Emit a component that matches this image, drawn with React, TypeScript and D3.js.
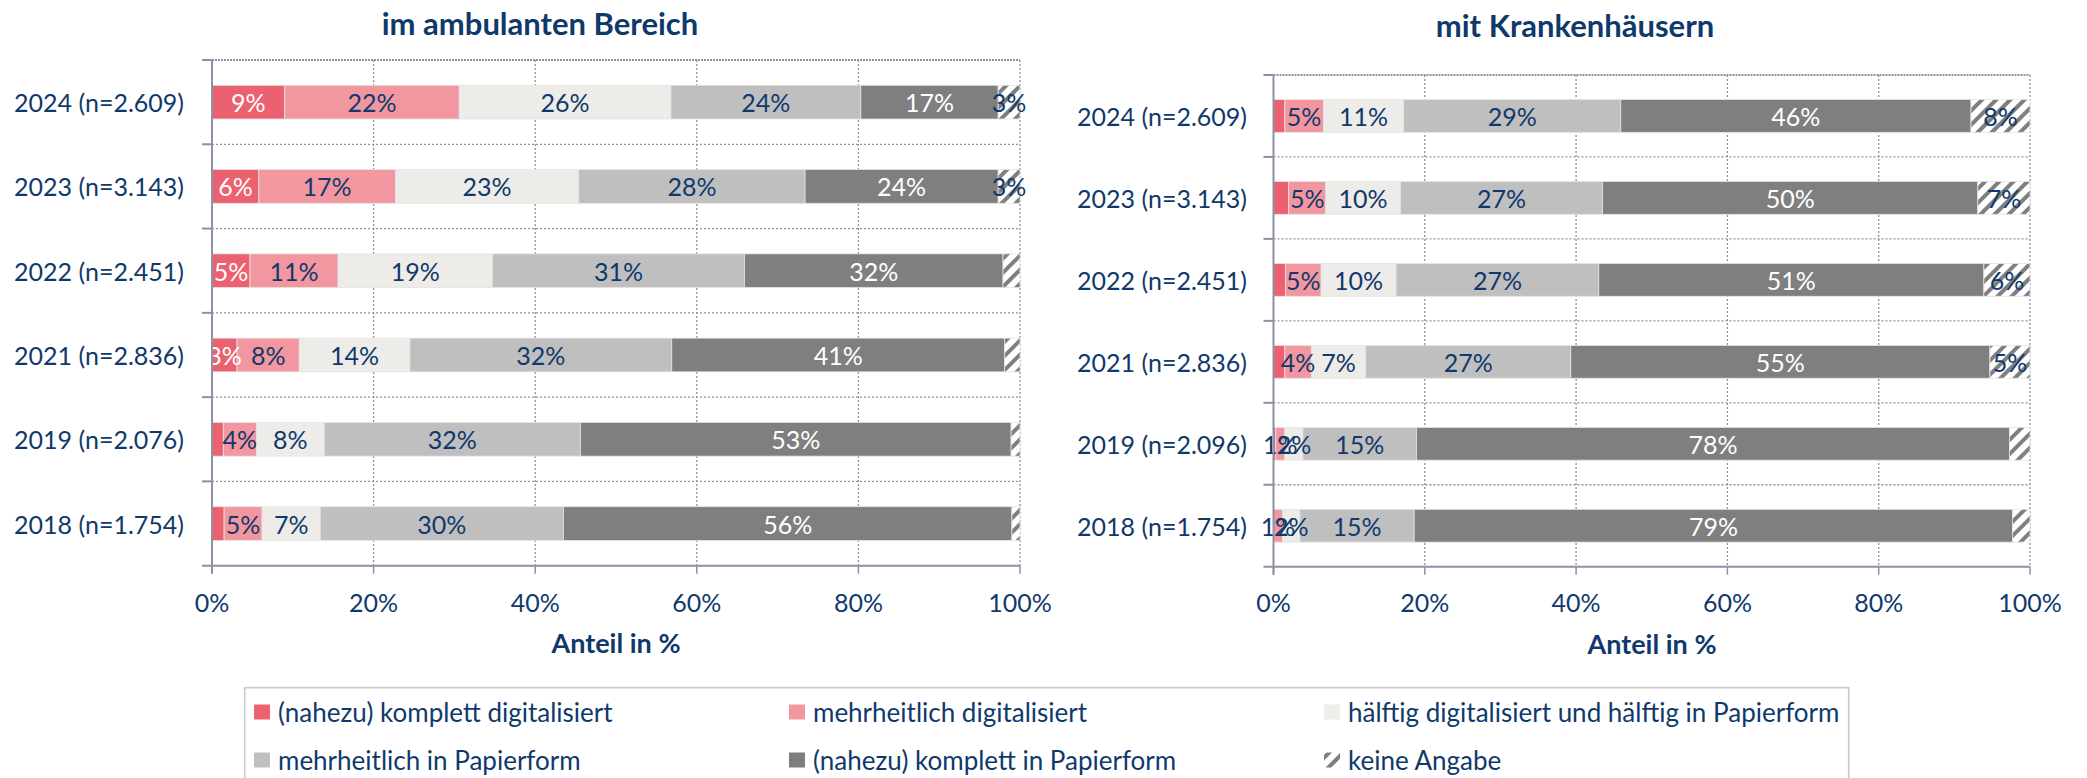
import React, { useEffect } from "react";
import * as d3 from "d3";

// ---------- data ----------
const seriesNames = [
  "(nahezu) komplett digitalisiert",
  "mehrheitlich digitalisiert",
  "hälftig digitalisiert und hälftig in Papierform",
  "mehrheitlich in Papierform",
  "(nahezu) komplett in Papierform",
  "keine Angabe",
];

const categoriesAmbulant = [
  "2024 (n=2.609)",
  "2023 (n=3.143)",
  "2022 (n=2.451)",
  "2021 (n=2.836)",
  "2019 (n=2.076)",
  "2018 (n=1.754)",
];
const categoriesKrankenhaus = [
  "2024 (n=2.609)",
  "2023 (n=3.143)",
  "2022 (n=2.451)",
  "2021 (n=2.836)",
  "2019 (n=2.096)",
  "2018 (n=1.754)",
];

// im ambulanten Bereich (per series, per year)
const ambKomplettDigital = [9.0, 5.8, 4.7, 3.1, 1.4, 1.5];
const ambMehrheitDigital = [21.6, 16.9, 10.9, 7.7, 4.1, 4.7];
const ambHaelftig = [26.2, 22.7, 19.1, 13.7, 8.4, 7.2];
const ambMehrheitPapier = [23.5, 28.0, 31.2, 32.4, 31.7, 30.1];
const ambKomplettPapier = [17.0, 23.9, 32.0, 41.2, 53.3, 55.5];
const ambKeineAngabe = [2.7, 2.7, 2.1, 1.9, 1.1, 1.0];

// mit Krankenhäusern
const khKomplettDigital = [1.5, 2.0, 1.6, 1.5, 0.3, 0.0];
const khMehrheitDigital = [5.1, 4.9, 4.7, 3.5, 1.2, 1.2];
const khHaelftig = [10.6, 9.9, 9.9, 7.2, 2.4, 2.3];
const khMehrheitPapier = [28.7, 26.7, 26.8, 27.1, 15.0, 15.1];
const khKomplettPapier = [46.3, 49.6, 50.9, 55.4, 78.4, 79.1];
const khKeineAngabe = [7.8, 6.9, 6.1, 5.3, 2.7, 2.3];

// which data labels are printed (per series, per year)
const ambLabelShown = [
  [true, true, true, true, false, false],
  [true, true, true, true, true, true],
  [true, true, true, true, true, true],
  [true, true, true, true, true, true],
  [true, true, true, true, true, true],
  [true, true, false, false, false, false],
];
const khLabelShown = [
  [false, false, false, false, false, false],
  [true, true, true, true, true, true],
  [true, true, true, true, true, true],
  [true, true, true, true, true, true],
  [true, true, true, true, true, true],
  [true, true, true, true, false, false],
];

const xTicks = [0, 20, 40, 60, 80, 100];

// ---------- style ----------
const NAVY = "#10396b";
const GRID = "#8c92a5";
const FONT = "Lato, 'Open Sans', sans-serif";
const colors = ["#eb6170", "#f2979f", "#edece8", "#bfbfbf", "#7f7f7f", "url(#hatch)"];
const labelColors = ["#ffffff", NAVY, NAVY, NAVY, "#ffffff", NAVY];

type Panel = {
  title: string;
  categories: string[];
  series: number[][];
  shown: boolean[][];
  x0: number; x1: number; y0: number; y1: number;
  labelX: number; titleX: number; titleY: number; axisTitleX: number; axisTitleY: number;
};

const panels: Panel[] = [
  {
    title: "im ambulanten Bereich",
    categories: categoriesAmbulant,
    series: [ambKomplettDigital, ambMehrheitDigital, ambHaelftig, ambMehrheitPapier, ambKomplettPapier, ambKeineAngabe],
    shown: ambLabelShown,
    x0: 212, x1: 1020, y0: 60, y1: 565.7,
    labelX: 184, titleX: 540, titleY: 23, axisTitleX: 616, axisTitleY: 642,
  },
  {
    title: "mit Krankenhäusern",
    categories: categoriesKrankenhaus,
    series: [khKomplettDigital, khMehrheitDigital, khHaelftig, khMehrheitPapier, khKomplettPapier, khKeineAngabe],
    shown: khLabelShown,
    x0: 1273.5, x1: 2030, y0: 75, y1: 566.7,
    labelX: 1247, titleX: 1575, titleY: 25, axisTitleX: 1652, axisTitleY: 643,
  },
];

function PanelChart({ p }: { p: Panel }) {
  const x = d3.scaleLinear().domain([0, 100]).range([p.x0, p.x1]);
  const y = d3
    .scaleBand<string>()
    .domain(p.categories)
    .range([p.y0, p.y1])
    .paddingInner(0.6)
    .paddingOuter(0.3);
  const step = y.step();
  const keys = seriesNames.map((_, i) => String(i));
  const rows = p.categories.map((c, ci) => {
    const r: any = { cat: c };
    p.series.forEach((s, si) => (r[String(si)] = s[ci]));
    return r;
  });
  const stacked = d3.stack<any>().keys(keys)(rows);
  const boundaries = d3.range(0, p.categories.length + 1).map((k) => p.y0 + k * step);

  return (
    <g>
      <text x={p.titleX} y={p.titleY} textAnchor="middle" dominantBaseline="central"
        fontFamily={FONT} fontWeight={700} fontSize={31} fill={NAVY}>{p.title}</text>

      {/* vertical gridlines */}
      {xTicks.slice(1).map((t) => (
        <line key={"g" + t} x1={x(t)} x2={x(t)} y1={p.y0} y2={p.y1}
          stroke={GRID} strokeWidth={1.3} strokeDasharray="2 2" />
      ))}
      {/* horizontal separators */}
      {boundaries.slice(0, -1).map((b, k) => (
        <g key={"h" + k}>
          <line x1={p.x0} x2={p.x1} y1={b} y2={b} stroke={GRID}
            strokeWidth={k === 0 ? 2.2 : 1.3} strokeDasharray={k === 0 ? "2 1" : "2 2"} />
          <line x1={p.x0 - 10} x2={p.x0} y1={b} y2={b} stroke={GRID} strokeWidth={2} />
        </g>
      ))}

      {/* bars */}
      {stacked.map((layer, si) => (
        <g key={"s" + si}>
          {layer.map((d, ci) => {
            const w = x(d[1]) - x(d[0]);
            if (w <= 0) return null;
            return (
              <rect key={ci} x={x(d[0])} y={y(p.categories[ci])!} width={w}
                height={y.bandwidth()} fill={colors[si]} stroke="#e4e4e4" strokeWidth={0.8} />
            );
          })}
        </g>
      ))}
      {/* labels */}
      {stacked.map((layer, si) => (
        <g key={"l" + si}>
          {layer.map((d, ci) => {
            if (!p.shown[si][ci]) return null;
            const v = p.series[si][ci];
            return (
              <text key={ci} x={(x(d[0]) + x(d[1])) / 2}
                y={y(p.categories[ci])! + y.bandwidth() / 2}
                textAnchor="middle" dominantBaseline="central"
                fontFamily={FONT} fontSize={25} fill={labelColors[si]}>
                {Math.round(v) + "%"}
              </text>
            );
          })}
        </g>
      ))}

      {/* axes */}
      <line x1={p.x0} x2={p.x0} y1={p.y0} y2={p.y1 + 8} stroke={GRID} strokeWidth={2} />
      <line x1={p.x0 - 10} x2={p.x1} y1={p.y1} y2={p.y1} stroke={GRID} strokeWidth={2} />
      {xTicks.map((t) => (
        <g key={"t" + t}>
          <line x1={x(t)} x2={x(t)} y1={p.y1} y2={p.y1 + 8} stroke={GRID} strokeWidth={1.5} />
          <text x={x(t)} y={602} textAnchor="middle" dominantBaseline="central"
            fontFamily={FONT} fontSize={25} fill={NAVY}>{t + "%"}</text>
        </g>
      ))}
      {p.categories.map((c) => (
        <text key={c} x={p.labelX} y={y(c)! + y.bandwidth() / 2} textAnchor="end"
          dominantBaseline="central" fontFamily={FONT} fontSize={25} fill={NAVY}>{c}</text>
      ))}
      <text x={p.axisTitleX} y={p.axisTitleY} textAnchor="middle" dominantBaseline="central"
        fontFamily={FONT} fontWeight={700} fontSize={27} fill={NAVY}>Anteil in %</text>
    </g>
  );
}

const legendCols = [254, 789, 1324];
const legendRows = [712, 760];

export default function App() {
  useEffect(() => {
    document.body.style.margin = "0";
  }, []);
  return (
    <div style={{ position: "absolute", left: 0, top: 0 }}>
      <svg width={2087} height={778} style={{ display: "block", background: "#fff" }}>
        <defs>
          <pattern id="hatch" patternUnits="userSpaceOnUse" width={10} height={10}
            patternTransform="rotate(45)">
            <rect width={10} height={10} fill="#ffffff" />
            <rect x={0} y={0} width={4} height={10} fill="#7f7f7f" />
          </pattern>
        </defs>
        {panels.map((p, i) => (
          <PanelChart key={i} p={p} />
        ))}
        <rect x={244.7} y={687.7} width={1604} height={110} fill="none" stroke="#c9c9c9" strokeWidth={1.6} />
        {seriesNames.map((n, i) => {
          const cx = legendCols[i % 3];
          const cy = legendRows[Math.floor(i / 3)];
          return (
            <g key={n}>
              <rect x={cx} y={cy - 7.5} width={16} height={15} fill={colors[i]} />
              <text x={cx + 24} y={cy} dominantBaseline="central" fontFamily={FONT}
                fontSize={26} fill={NAVY}>{n}</text>
            </g>
          );
        })}
      </svg>
    </div>
  );
}
